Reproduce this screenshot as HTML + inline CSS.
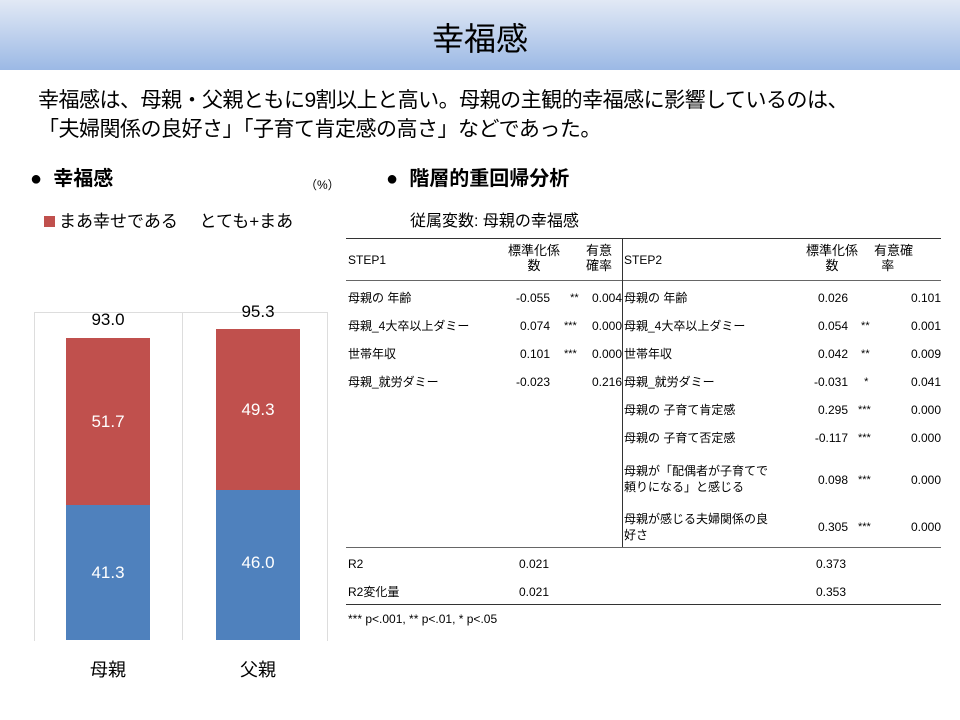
<!DOCTYPE html>
<html><head><meta charset="utf-8"><style>
body{margin:0;width:960px;height:720px;background:#fff;position:relative;overflow:hidden;font-family:"Liberation Sans","Noto Sans CJK JP",sans-serif;color:#000}
.a{position:absolute;white-space:nowrap}
.hdr{position:absolute;left:0;top:0;width:960px;height:70px;background:linear-gradient(#e2e9f5,#9cb9e5)}
.t{font-size:12px}
.r{text-align:right}
.line{position:absolute;background:#333}
</style></head><body>
<div class="hdr"></div>
<div class="a" style="left:0;width:960px;text-align:center;top:14px;font-size:32px">幸福感</div>
<div class="a" style="left:38px;top:86px;font-size:21px;line-height:29px;letter-spacing:-0.5px">幸福感は、母親・父親ともに9割以上と高い。母親の主観的幸福感に影響しているのは、<br>「夫婦関係の良好さ」「子育て肯定感の高さ」などであった。</div>

<div class="a" style="left:30px;top:162px;font-size:20px;font-weight:bold">●&nbsp; 幸福感</div>
<div class="a" style="left:305px;top:176px;font-size:12px">（%）</div>
<div class="a" style="left:44px;top:207px;font-size:17px"><span style="display:inline-block;width:11px;height:11px;background:#c0504d;margin-right:4px"></span>まあ幸せである　 とても+まあ</div>

<div class="a" style="left:34px;top:312px;width:292px;height:328px;border:1px solid #ddd;border-bottom:none"></div>
<div class="a" style="left:182px;top:312px;width:1px;height:328px;background:#ddd"></div>
<div class="a" style="left:66px;top:338px;width:84px;height:167px;background:#c0504d"></div>
<div class="a" style="left:66px;top:505px;width:84px;height:135px;background:#4f81bd"></div>
<div class="a" style="left:216px;top:329px;width:84px;height:161px;background:#c0504d"></div>
<div class="a" style="left:216px;top:490px;width:84px;height:150px;background:#4f81bd"></div>
<div class="a" style="left:66px;width:84px;text-align:center;top:310px;font-size:17px">93.0</div>
<div class="a" style="left:216px;width:84px;text-align:center;top:302px;font-size:17px">95.3</div>
<div class="a" style="left:66px;width:84px;text-align:center;top:412px;font-size:17px;color:#fff">51.7</div>
<div class="a" style="left:66px;width:84px;text-align:center;top:563px;font-size:17px;color:#fff">41.3</div>
<div class="a" style="left:216px;width:84px;text-align:center;top:400px;font-size:17px;color:#fff">49.3</div>
<div class="a" style="left:216px;width:84px;text-align:center;top:553px;font-size:17px;color:#fff">46.0</div>
<div class="a" style="left:66px;width:84px;text-align:center;top:656px;font-size:18px">母親</div>
<div class="a" style="left:216px;width:84px;text-align:center;top:656px;font-size:18px">父親</div>

<div class="a" style="left:386px;top:162px;font-size:20px;font-weight:bold">●&nbsp; 階層的重回帰分析</div>
<div class="a" style="left:410px;top:207px;font-size:16px">従属変数: 母親の幸福感</div>

<div class="line" style="left:346px;top:238px;width:595px;height:1px"></div>
<div class="line" style="left:346px;top:280px;width:595px;height:1px;background:#666"></div>
<div class="line" style="left:622px;top:238px;width:1px;height:310px"></div>
<div class="line" style="left:346px;top:547px;width:595px;height:1px;background:#666"></div>
<div class="line" style="left:346px;top:604px;width:595px;height:1px"></div>

<div class="a t" style="left:348px;top:253px">STEP1</div>
<div class="a t" style="left:624px;top:253px">STEP2</div>
<div class="a t" style="left:508px;top:243px;font-size:13px;line-height:15px;text-align:center">標準化係<br>数</div>
<div class="a t" style="left:586px;top:243px;font-size:13px;line-height:15px;text-align:center">有意<br>確率</div>
<div class="a t" style="left:806px;top:243px;font-size:13px;line-height:15px;text-align:center">標準化係<br>数</div>
<div class="a t" style="left:874px;top:243px;font-size:13px;line-height:15px">有意確<br>&nbsp;&nbsp;率</div>

<div class="a t" style="left:348px;top:284px;line-height:28px">母親の 年齢<br>母親_4大卒以上ダミー<br>世帯年収<br>母親_就労ダミー</div>
<div class="a t r" style="left:480px;width:70px;top:284px;line-height:28px">-0.055<br>0.074<br>0.101<br>-0.023</div>
<div class="a t" style="left:564px;top:284px;line-height:28px;font-size:11px">&nbsp;&nbsp;**<br>***<br>***</div>
<div class="a t r" style="left:580px;width:42px;top:284px;line-height:28px">0.004<br>0.000<br>0.000<br>0.216</div>

<div class="a t" style="left:624px;top:284px;line-height:28px">母親の 年齢<br>母親_4大卒以上ダミー<br>世帯年収<br>母親_就労ダミー<br>母親の 子育て肯定感<br>母親の 子育て否定感</div>
<div class="a t" style="left:624px;top:463px;line-height:16px">母親が「配偶者が子育てで<br>頼りになる」と感じる</div>
<div class="a t" style="left:624px;top:511px;line-height:16px">母親が感じる夫婦関係の良<br>好さ</div>
<div class="a t r" style="left:778px;width:70px;top:284px;line-height:28px">0.026<br>0.054<br>0.042<br>-0.031<br>0.295<br>-0.117</div>
<div class="a t r" style="left:778px;width:70px;top:473px">0.098</div>
<div class="a t r" style="left:778px;width:70px;top:520px">0.305</div>
<div class="a t" style="left:858px;top:284px;line-height:28px;font-size:11px"><br>&nbsp;**<br>&nbsp;**<br>&nbsp;&nbsp;*<br>***<br>***</div>
<div class="a t" style="left:858px;top:474px;font-size:11px">***</div>
<div class="a t" style="left:858px;top:521px;font-size:11px">***</div>
<div class="a t r" style="left:880px;width:61px;top:284px;line-height:28px">0.101<br>0.001<br>0.009<br>0.041<br>0.000<br>0.000</div>
<div class="a t r" style="left:880px;width:61px;top:473px">0.000</div>
<div class="a t r" style="left:880px;width:61px;top:520px">0.000</div>

<div class="a t" style="left:348px;top:550px;line-height:28px">R2<br>R2変化量</div>
<div class="a t" style="left:519px;top:550px;line-height:28px">0.021<br>0.021</div>
<div class="a t" style="left:816px;top:550px;line-height:28px">0.373<br>0.353</div>
<div class="a t" style="left:348px;top:612px">*** p&lt;.001, ** p&lt;.01, * p&lt;.05</div>
</body></html>
